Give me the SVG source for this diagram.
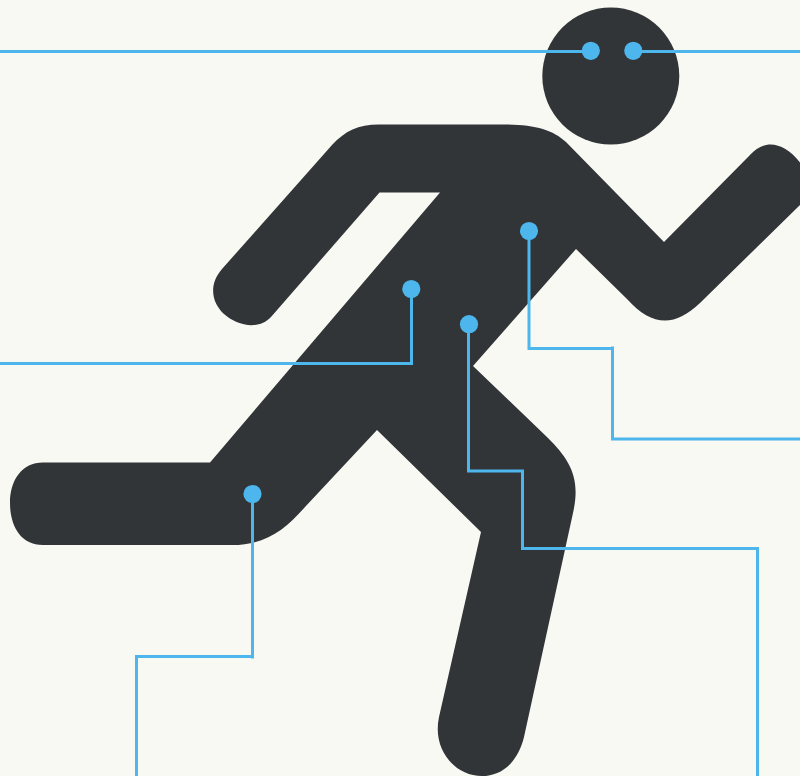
<svg xmlns="http://www.w3.org/2000/svg" width="800" height="776" viewBox="0 0 800 776">
<style>.body{fill:#313538}.line{fill:none;stroke:#4db6ec;stroke-width:3}.dot{fill:#4db6ec}</style>
<rect width="800" height="776" fill="#f9f9f3"/>
<g id="figure">
<circle class="body" cx="610.800" cy="76" r="68.500"/>
<path class="body" d="M379 124.500H505C535 124.500 553 130 566 142L664 242L750 155C765 138 785 142 802 165V203L700 303C675 327 652 327 627 299L576 249L473 366L548 438C570 460 581 478 573 513L524 737C518 762 502 776 482 776C455 776 432 750 439 717L481 532L377 430L305 507C285 530 265 545 232 545H43C20 545 10 525 10 503C10 480 22 462.500 43 462.500H210L440 192.500H379.500L271 317C258 331 236 325 224 314C212 303 208 285 222 269L332 145C345 131 358 124.500 379 124.500Z"/>
</g>
<g id="connectors">
<path class="line" d="M0 51.500H590"/>
<path class="line" d="M800 51.500H633"/>
<path class="line" d="M0 363.500H411.500V288"/>
<path class="line" d="M468.500 324V471H522.500V548.500H757.500V776"/>
<path class="line" d="M529 231V348.500H611"/>
<path class="line" d="M612.500 346.500V439H800"/>
<path class="line" d="M252.500 494V658.500"/>
<path class="line" d="M251 656.500H136.500V776"/>
</g>
<g id="dots">
<circle class="dot" cx="590.800" cy="50.800" r="9.100"/>
<circle class="dot" cx="633.300" cy="50.800" r="9.100"/>
<circle class="dot" cx="411.300" cy="289" r="9.100"/>
<circle class="dot" cx="469" cy="324.200" r="9.100"/>
<circle class="dot" cx="529" cy="231" r="9.100"/>
<circle class="dot" cx="252.500" cy="494" r="9.100"/>
</g>
</svg>
